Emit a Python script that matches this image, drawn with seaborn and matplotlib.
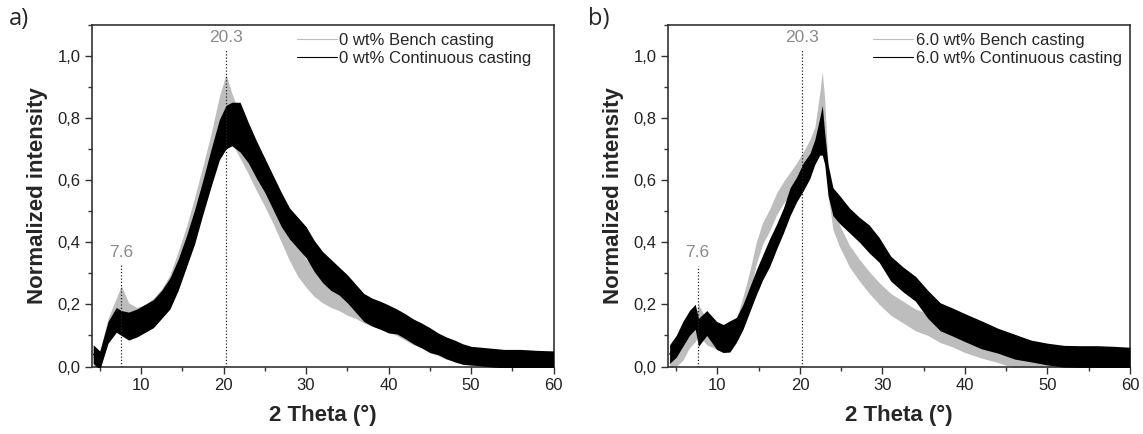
import matplotlib
matplotlib.use("Agg")
import matplotlib.pyplot as plt
import seaborn as sns
import pandas as pd
from matplotlib.ticker import MultipleLocator, FuncFormatter

# --- data: band centre and half-width of the noisy XRD traces ---
theta_a = [4.2, 5, 6, 7, 7.6, 8.5, 9.5, 10.5, 11.5, 12.5, 13.5, 14.5, 15.5, 16.5, 17.5, 18.5,
           19.5, 20.3, 21, 22, 23, 24, 25, 26, 27, 28, 29, 30, 31, 32, 33, 34, 35, 36, 37, 38,
           39, 40, 41, 42, 43, 44, 45, 46, 47, 48, 49, 50, 52, 54, 56, 58, 60]
bench_a = [0.03, 0.02, 0.12, 0.18, 0.21, 0.16, 0.15, 0.16, 0.18, 0.21, 0.25, 0.32, 0.40, 0.49,
           0.585, 0.68, 0.78, 0.83, 0.80, 0.74, 0.68, 0.62, 0.565, 0.51, 0.45, 0.39, 0.34, 0.30,
           0.27, 0.25, 0.235, 0.225, 0.21, 0.2, 0.185, 0.17, 0.16, 0.15, 0.14, 0.125, 0.11, 0.095,
           0.08, 0.07, 0.058, 0.048, 0.038, 0.033, 0.028, 0.024, 0.023, 0.02, 0.02]
bench_a_noise = [0.03, 0.03, 0.035, 0.04, 0.05, 0.045, 0.04, 0.04, 0.04, 0.04,
                 0.045, 0.05, 0.05, 0.055, 0.06, 0.07, 0.09, 0.11, 0.08, 0.07,
                 0.06, 0.055, 0.05, 0.05, 0.05, 0.05, 0.05, 0.045, 0.045, 0.045,
                 0.045, 0.045, 0.045, 0.045, 0.045, 0.04, 0.04, 0.04, 0.04, 0.04,
                 0.04, 0.035, 0.035, 0.035, 0.035, 0.03, 0.03, 0.03, 0.03, 0.03, 0.03, 0.03, 0.03]
cont_a = [0.04, 0.02, 0.11, 0.15, 0.14, 0.13, 0.14, 0.155, 0.17, 0.2,
          0.235, 0.295, 0.37, 0.45, 0.545, 0.64, 0.73, 0.77, 0.78, 0.77,
          0.72, 0.665, 0.615, 0.56, 0.505, 0.46, 0.43, 0.40, 0.355, 0.32,
          0.295, 0.275, 0.25, 0.22, 0.19, 0.175, 0.165, 0.153, 0.145, 0.13,
          0.113, 0.1, 0.085, 0.073, 0.06, 0.05, 0.04, 0.035, 0.03, 0.025, 0.025, 0.022, 0.02]
cont_a_noise = [0.03, 0.03, 0.035, 0.04, 0.04, 0.045, 0.045, 0.045, 0.045, 0.045,
                0.05, 0.05, 0.05, 0.055, 0.055, 0.06, 0.065, 0.07, 0.07, 0.08,
                0.065, 0.06, 0.055, 0.055, 0.055, 0.05, 0.05, 0.05, 0.05, 0.05,
                0.05, 0.045, 0.045, 0.045, 0.045, 0.045, 0.045, 0.045, 0.04, 0.04,
                0.04, 0.04, 0.04, 0.035, 0.035, 0.035, 0.033, 0.03, 0.03, 0.03, 0.03, 0.03, 0.03]

theta_b = [4.2, 5, 5.8, 6.6, 7.3, 7.7, 8.7, 9.9, 10.7, 11.5, 12.3, 13.1, 13.9, 14.7, 15.5, 16.3,
           17.2, 18.0, 18.8, 19.6, 20.4, 21.2, 21.8, 22.4, 22.7, 23.0, 23.4, 24.0, 24.8, 26.0,
           27.2, 28.4, 29.6, 31.0, 32.5, 34, 35.5, 37, 38.5, 40, 42, 44, 46, 48, 50, 52, 54, 56, 58, 60]
bench_b = [0.01, 0.02, 0.05, 0.095, 0.12, 0.15, 0.11, 0.095, 0.085, 0.085,
           0.12, 0.19, 0.27, 0.365, 0.43, 0.47, 0.525, 0.56, 0.59, 0.62,
           0.655, 0.69, 0.73, 0.82, 0.88, 0.80, 0.60, 0.48, 0.42, 0.355,
           0.31, 0.27, 0.235, 0.2, 0.175, 0.15, 0.135, 0.112, 0.098, 0.08,
           0.062, 0.043, 0.025, 0.013, 0.006, 0.002, 0.0, 0.0, 0.0, 0.0]
bench_b_noise = [0.02, 0.02, 0.03, 0.035, 0.04, 0.05, 0.04, 0.04, 0.04, 0.04,
                 0.035, 0.035, 0.035, 0.035, 0.035, 0.035, 0.035, 0.035, 0.035, 0.035,
                 0.035, 0.04, 0.04, 0.06, 0.07, 0.06, 0.05, 0.04, 0.035, 0.035,
                 0.035, 0.035, 0.035, 0.035, 0.035, 0.035, 0.035, 0.035, 0.035, 0.035,
                 0.035, 0.03, 0.03, 0.02, 0.01, 0.005, 0.005, 0.005, 0.005, 0.005]
cont_b = [0.04, 0.065, 0.105, 0.14, 0.16, 0.11, 0.14, 0.10, 0.09, 0.097,
          0.118, 0.16, 0.215, 0.27, 0.32, 0.365, 0.42, 0.47, 0.53, 0.57,
          0.61, 0.645, 0.69, 0.74, 0.76, 0.70, 0.60, 0.53, 0.505, 0.47,
          0.44, 0.41, 0.375, 0.315, 0.28, 0.25, 0.2, 0.16, 0.143, 0.125,
          0.102, 0.083, 0.064, 0.05, 0.04, 0.033, 0.032, 0.032, 0.03, 0.027]
cont_b_noise = [0.03, 0.035, 0.04, 0.04, 0.04, 0.045, 0.04, 0.045, 0.045, 0.05,
                0.04, 0.04, 0.04, 0.04, 0.04, 0.045, 0.04, 0.04, 0.045, 0.04,
                0.045, 0.04, 0.04, 0.06, 0.08, 0.05, 0.05, 0.045, 0.045, 0.04,
                0.04, 0.045, 0.04, 0.04, 0.04, 0.04, 0.045, 0.045, 0.045, 0.045,
                0.045, 0.04, 0.04, 0.035, 0.035, 0.035, 0.035, 0.035, 0.035, 0.035]

peaks = [7.6, 20.3]
peak_label_y = [0.368, 1.058]
peak_line_top = {"a": [0.333, 1.02], "b": [0.323, 1.02]}

labels_a = ["0 wt% Bench casting", "0 wt% Continuous casting"]
labels_b = ["6.0 wt% Bench casting", "6.0 wt% Continuous casting"]

GREY = "#bdbdbd"
BLACK = "#000000"


def band_frame(theta, centre, noise):
    # two rows per angle (lower and upper edge of the noise band)
    rows = []
    for t, c, n in zip(theta, centre, noise):
        rows.append((t, c - n))
        rows.append((t, c + n))
    return pd.DataFrame(rows, columns=["theta", "intensity"])


sns.set_theme(style="ticks")
plt.rcParams["font.family"] = ["Liberation Sans", "DejaVu Sans"]

fig = plt.figure(figsize=(11.43, 4.34), dpi=100)
ax_a = fig.add_axes([0.0801, 0.1555, 0.4042, 0.788])
ax_b = fig.add_axes([0.5844, 0.1555, 0.4042, 0.788])

panels = [
    (ax_a, "a", theta_a, bench_a, bench_a_noise, cont_a, cont_a_noise, labels_a),
    (ax_b, "b", theta_b, bench_b, bench_b_noise, cont_b, cont_b_noise, labels_b),
]

for ax, key, th, b, bn, c, cn, labs in panels:
    # bench (grey) first, continuous (black) on top
    for z, (cen, noi, col, lab) in enumerate([(b, bn, GREY, labs[0]), (c, cn, BLACK, labs[1])]):
        sns.lineplot(data=band_frame(th, cen, noi), x="theta", y="intensity", ax=ax,
                     estimator="mean", errorbar=("pi", 100), color=col, lw=0.8,
                     zorder=2 + 2 * z + 1,
                     err_kws={"alpha": 1, "linewidth": 0, "zorder": 2 + 2 * z}, label=lab)

    # dotted markers at the reflections
    for p, ly, lt in zip(peaks, peak_label_y, peak_line_top[key]):
        ax.plot([p, p], [0, lt], ls=(0, (1, 1.6)), color="#222222", lw=0.9, zorder=6)
        ax.text(p, ly, f"{p}", ha="center", va="center", color="#8a8a8a", fontsize=12.5)

    ax.set_xlim(4, 60)
    ax.set_ylim(0, 1.1)
    ax.xaxis.set_major_locator(MultipleLocator(10))
    ax.xaxis.set_minor_locator(MultipleLocator(5))
    ax.yaxis.set_major_locator(MultipleLocator(0.2))
    ax.yaxis.set_minor_locator(MultipleLocator(0.1))
    ax.yaxis.set_major_formatter(FuncFormatter(lambda v, _: f"{v:.1f}".replace(".", ",")))
    ax.tick_params(which="major", direction="out", length=5, width=1, labelsize=12, pad=3,
                   color="#333333", labelcolor="#222222")
    ax.tick_params(which="minor", direction="out", length=3, width=1, color="#333333")
    for s in ax.spines.values():
        s.set_linewidth(1.2)
        s.set_color("#333333")

    ax.set_xlabel("2 Theta (°)", fontsize=16, fontweight="bold", labelpad=9)
    ax.set_ylabel("Normalized intensity", fontsize=16, fontweight="bold", labelpad=7)

    ax.legend(loc="upper left", bbox_to_anchor=(0.43, 0.995), frameon=False, fontsize=12,
              handlelength=2.4, handletextpad=0.15, labelspacing=0.2, borderaxespad=0)

fig.text(0.008, 0.985, "a)", va="top", ha="left", fontsize=17, family=["Open Sans", "DejaVu Sans"])
fig.text(0.514, 0.985, "b)", va="top", ha="left", fontsize=17, family=["Open Sans", "DejaVu Sans"])

fig.savefig("out.png", dpi=100)
